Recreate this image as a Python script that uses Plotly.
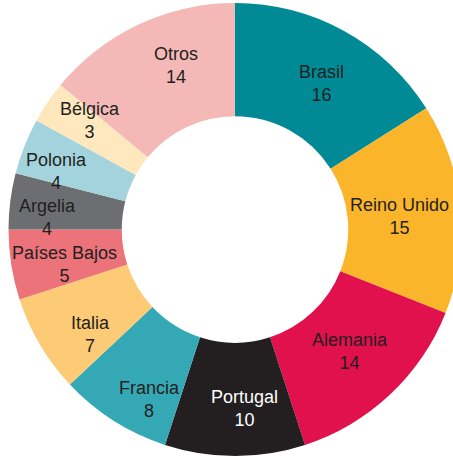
import math
import plotly.graph_objects as go

# Share by country (%), clockwise from the top
countries = ["Brasil", "Reino Unido", "Alemania", "Portugal", "Francia", "Italia",
             "Países Bajos", "Argelia", "Polonia", "Bélgica", "Otros"]
shares = [16, 15, 14, 10, 8, 7, 5, 4, 4, 3, 14]
slice_colors = ["#008A96", "#FBB52B", "#E0114D", "#231F20", "#35A8B5", "#FDCB75",
                "#EC7379", "#6D6E72", "#A3D3DC", "#FFE7BE", "#F4B9B6"]
label_colors = ["#231F20"] * 3 + ["#FFFFFF"] + ["#231F20"] * 7

# Label placement inside each slice: distance from the centre (fraction of the
# outer radius) and a small turn away from the slice bisector (degrees)
label_radius = [0.75, 0.73, 0.74, 0.79, 0.84, 0.79, 0.77, 0.83, 0.83, 0.80, 0.77]
label_turn = [1.7, 0.9, 0.0, -3.2, -5.7, -5.3, -2.6, -3.5, -3.5, 2.9, 5.3]

W, H = 462, 456
dom_x = [8 / W, 1.0]
dom_y = [0.0, 453 / H]

fig = go.Figure(go.Pie(
    labels=countries,
    values=shares,
    hole=0.5,
    sort=False,
    direction="clockwise",
    rotation=0,
    marker=dict(colors=slice_colors, line=dict(width=0)),
    textinfo="none",
    showlegend=False,
    hoverinfo="label+value",
    domain=dict(x=dom_x, y=dom_y),
))

# Pie geometry in pixels (Plotly uses the smaller side of the domain)
dw = (dom_x[1] - dom_x[0]) * W
dh = (dom_y[1] - dom_y[0]) * H
radius = min(dw, dh) / 2
cx = (dom_x[0] + dom_x[1]) / 2 * W
cy = (dom_y[0] + dom_y[1]) / 2 * H  # measured from the bottom

total = sum(shares)
start = 0.0
annotations = []
for name, val, col, rf, turn in zip(countries, shares, label_colors, label_radius, label_turn):
    mid = (start + val / 2) / total * 360 + turn
    start += val
    r = rf * radius
    px = cx + r * math.sin(math.radians(mid))
    py = cy + r * math.cos(math.radians(mid))
    annotations.append(dict(
        x=px / W, y=py / H, xref="paper", yref="paper",
        text=f"{name}<br>{val}", showarrow=False,
        xanchor="center", yanchor="middle", align="center",
        font=dict(family="Liberation Sans, Arial, sans-serif", size=18, color=col),
    ))

fig.update_layout(
    width=W, height=H,
    margin=dict(l=0, r=0, t=0, b=0),
    paper_bgcolor="white",
    plot_bgcolor="white",
    annotations=annotations,
)

fig.write_html(
    "out.html",
    post_script="document.documentElement.style.overflow='hidden';document.body.style.overflow='hidden';",
)
